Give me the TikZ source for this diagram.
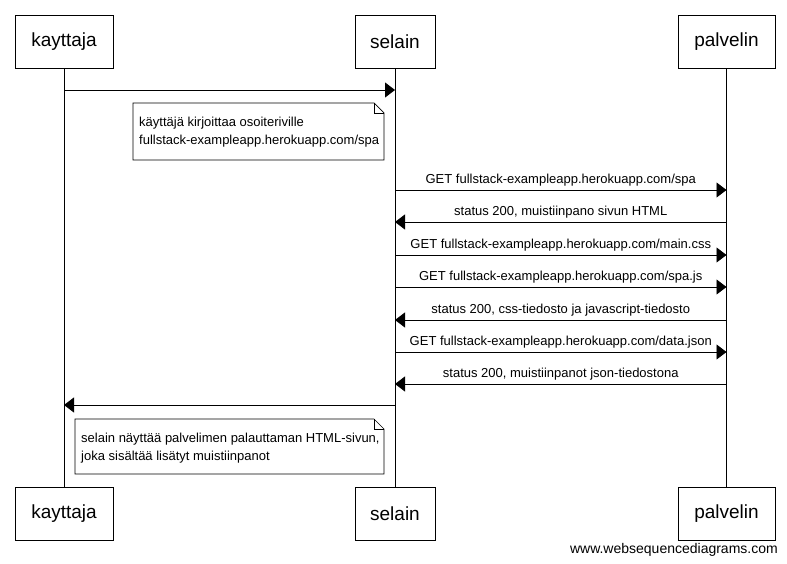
\documentclass[tikz,border=0pt]{standalone}
\usepackage{fontspec}
\setmainfont{Liberation Sans}
\usetikzlibrary{arrows.meta}
\begin{document}
\begin{tikzpicture}[x=1pt,y=-1pt,
  actor/.style={draw,line width=0.9pt,minimum height=53pt,inner sep=0pt,font=\fontsize{19}{22}\selectfont},
  life/.style={line width=0.9pt},
  msg/.style={line width=0.9pt,-{Triangle[length=10pt,width=15pt]}},
  lbl/.style={font=\fontsize{13}{15}\selectfont,inner sep=0pt,anchor=base},
  notetxt/.style={font=\fontsize{13}{18}\selectfont,align=left,anchor=north west,inner sep=0pt}]
\useasboundingbox (0,0) rectangle (787,564);
% actors top
\node[actor,minimum width=98pt] (kt) at (64,41.5) {kayttaja};
\node[actor,minimum width=80pt] (st) at (395,41.5) {selain};
\node[actor,minimum width=97pt] (pt) at (726.5,41.5) {palvelin};
% actors bottom
\node[actor,minimum width=98pt] (kb) at (64,513.5) {kayttaja};
\node[actor,minimum width=80pt] (sb) at (395,513.5) {selain};
\node[actor,minimum width=97pt] (pb) at (726.5,513.5) {palvelin};
% lifelines
\draw[life] (kt.south) -- (kb.north);
\draw[life] (st.south) -- (sb.north);
\draw[life] (pt.south) -- (pb.north);
% message end points
\foreach \n/\y in {1/90,2/190,3/222,4/255,5/287,6/320,7/352,8/384,9/405}{
  \coordinate (k\n) at (kt.south |- 0,\y);
  \coordinate (s\n) at (st.south |- 0,\y);
  \coordinate (p\n) at (pt.south |- 0,\y);
}
\draw[msg] (k1) -- (s1);
% note 1
\draw[line width=0.7pt] (133,103) -- (374,103) -- (384,113) -- (384,160) -- (133,160) -- cycle;
\draw[line width=0.7pt] (374,103) -- (374,113) -- (384,113);
\node[notetxt] (n1) at (139,117) {käyttäjä kirjoittaa osoiteriville\\fullstack-exampleapp.herokuapp.com/spa};
% messages
\draw[msg] (s2) -- node[lbl,above=3pt] {GET fullstack-exampleapp.herokuapp.com/spa} (p2);
\draw[msg] (p3) -- node[lbl,above=3pt] {status 200, muistiinpano sivun HTML} (s3);
\draw[msg] (s4) -- node[lbl,above=3pt] {GET fullstack-exampleapp.herokuapp.com/main.css} (p4);
\draw[msg] (s5) -- node[lbl,above=3pt] {GET fullstack-exampleapp.herokuapp.com/spa.js} (p5);
\draw[msg] (p6) -- node[lbl,above=3pt] {status 200, css-tiedosto ja javascript-tiedosto} (s6);
\draw[msg] (s7) -- node[lbl,above=3pt] {GET fullstack-exampleapp.herokuapp.com/data.json} (p7);
\draw[msg] (p8) -- node[lbl,above=3pt] {status 200, muistiinpanot json-tiedostona} (s8);
\draw[msg] (s9) -- (k9);
% note 2
\draw[line width=0.7pt] (75,419) -- (374,419) -- (384,429) -- (384,474) -- (75,474) -- cycle;
\draw[line width=0.7pt] (374,419) -- (374,429) -- (384,429);
\node[notetxt] (n2) at (81,433) {selain näyttää palvelimen palauttaman HTML-sivun,\\joka sisältää lisätyt muistiinpanot};
% footer
\node[font=\fontsize{14}{16}\selectfont,anchor=base east,inner sep=0pt] (wm) at (778,553) {www.websequencediagrams.com};
\end{tikzpicture}
\end{document}
